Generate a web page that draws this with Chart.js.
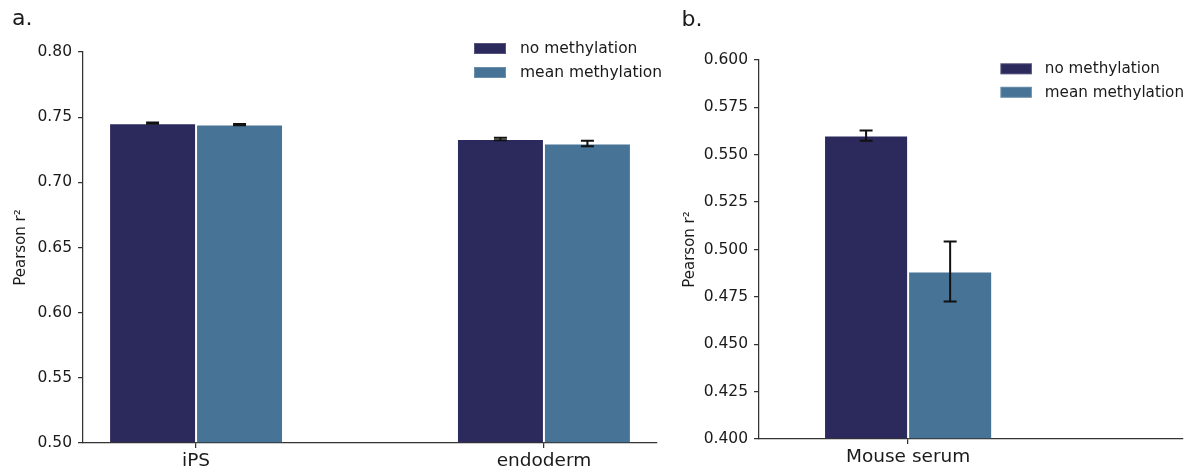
<!DOCTYPE html>
<html><head><meta charset="utf-8">
<script src="https://cdn.jsdelivr.net/npm/chart.js@4.4.1/dist/chart.umd.min.js"></script>
<style>
html,body{margin:0;padding:0;background:#fff;width:1192px;height:473px;overflow:hidden;}
.p{position:absolute;top:0;}
#wa{left:0;width:670px;height:473px;}
#wb{left:660px;width:532px;height:473px;}
</style></head><body>
<div class="p" id="wa"><canvas id="ca" width="670" height="473"></canvas></div>
<div class="p" id="wb"><canvas id="cb" width="532" height="473"></canvas></div>
<script>
// ---- data ----
const seriesNames = ['no methylation', 'mean methylation'];
const seriesColors = ['#2c295c', '#467396'];

const categoriesA = ['iPS', 'endoderm'];
const noMethA = [0.7454, 0.7332];
const noMethErrA = [0.0005, 0.0010];
const meanMethA = [0.7443, 0.7298];
const meanMethErrA = [0.0005, 0.0022];
const yTicksA = [0.50, 0.55, 0.60, 0.65, 0.70, 0.75, 0.80];

const categoriesB = ['Mouse serum'];
const noMethB = [0.5601];
const noMethErrB = [0.0027];
const meanMethB = [0.4884];
const meanMethErrB = [0.0158];
const yTicksB = [0.400, 0.425, 0.450, 0.475, 0.500, 0.525, 0.550, 0.575, 0.600];

const INK = '#1a1a1a';
const AXIS = '#333333';

const errorBarsPlugin = {
  id: 'errorBars',
  afterDatasetsDraw(chart, args, opts) {
    const ctx = chart.ctx;
    const y = chart.scales.y;
    ctx.save();
    ctx.strokeStyle = '#111';
    ctx.lineWidth = opts.lineWidth || 2;
    chart.data.datasets.forEach((ds, di) => {
      const meta = chart.getDatasetMeta(di);
      meta.data.forEach((el, i) => {
        const v = ds.data[i].y, e = ds.errors[i];
        const y1 = y.getPixelForValue(v - e), y2 = y.getPixelForValue(v + e);
        const cw = opts.cap || 6.5;
        ctx.beginPath();
        ctx.moveTo(el.x, y1); ctx.lineTo(el.x, y2);
        ctx.moveTo(el.x - cw, y1); ctx.lineTo(el.x + cw, y1);
        ctx.moveTo(el.x - cw, y2); ctx.lineTo(el.x + cw, y2);
        ctx.stroke();
      });
    });
    ctx.restore();
  }
};

const legendPlugin = {
  id: 'boxLegend',
  afterDraw(chart, args, o) {
    const ctx = chart.ctx;
    ctx.save();
    ctx.font = o.fontSize + 'px "DejaVu Sans"';
    ctx.textBaseline = 'middle';
    ctx.textAlign = 'left';
    chart.data.datasets.forEach((ds, i) => {
      const top = o.top + i * o.gap;
      ctx.fillStyle = ds.backgroundColor;
      ctx.fillRect(o.left, top, o.w, o.h);
      ctx.strokeStyle = 'rgba(255,255,255,0.2)';
      ctx.lineWidth = 1;
      ctx.strokeRect(o.left + 0.5, top + 0.5, o.w - 1, o.h - 1);
      ctx.fillStyle = INK;
      ctx.fillText(ds.label, o.textX, top + o.h / 2 + 0.5);
    });
    ctx.font = o.panelSize + 'px "DejaVu Sans"';
    ctx.textBaseline = 'alphabetic';
    ctx.fillStyle = INK;
    ctx.fillText(o.panel, o.panelX, o.panelY);
    ctx.restore();
  }
};

function makeChart(id, cfg) {
  const datasets = cfg.series.map((vals, si) => ({
    label: seriesNames[si],
    data: cfg.categories.map((c, i) => ({ x: i, y: vals[i] })),
    errors: cfg.errors[si],
    backgroundColor: seriesColors[si],
    borderColor: 'rgba(255,255,255,0.15)',
    borderWidth: 1,
    base: cfg.yTicks[0],
    categoryPercentage: cfg.catPct,
    barPercentage: 1
  }));
  return new Chart(document.getElementById(id), {
    type: 'bar',
    data: { datasets },
    options: {
      responsive: false,
      animation: false,
      devicePixelRatio: 1,
      layout: { padding: { top: cfg.padTop, right: cfg.padRight, left: 0, bottom: 0 } },
      plugins: {
        legend: { display: false },
        tooltip: { enabled: false },
        errorBars: { lineWidth: 2, cap: 6.5 },
        boxLegend: cfg.legend
      },
      scales: {
        x: {
          type: 'linear',
          offset: false,
          min: cfg.xMin, max: cfg.xMax,
          afterBuildTicks: s => { s.ticks = cfg.categories.map((c, i) => ({ value: i })); },
          afterFit: s => { s.height = cfg.xHeight; },
          ticks: {
            autoSkip: false, maxRotation: 0,
            callback: v => cfg.categories[v],
            color: INK, padding: cfg.xPad,
            font: { family: 'DejaVu Sans', size: 18.5 }
          },
          grid: { offset: false, drawOnChartArea: false, drawTicks: true, tickLength: 5, color: AXIS, lineWidth: 1.25 },
          border: { display: true, color: AXIS, width: 1.25 }
        },
        y: {
          type: 'linear',
          min: cfg.yTicks[0], max: cfg.yTicks[cfg.yTicks.length - 1],
          afterBuildTicks: s => { s.ticks = cfg.yTicks.map(v => ({ value: v })); },
          afterFit: s => { s.width = cfg.yWidth; },
          ticks: {
            callback: v => v.toFixed(cfg.dec),
            color: INK, padding: 6,
            font: { family: 'DejaVu Sans', size: 15.5 }
          },
          title: {
            display: true, text: 'Pearson r\u00B2', color: INK,
            font: { family: 'DejaVu Sans', size: 15 },
            padding: { top: cfg.titlePad, bottom: 0 }
          },
          grid: { drawOnChartArea: false, drawTicks: true, tickLength: 5, color: AXIS, lineWidth: 1.25 },
          border: { display: true, color: AXIS, width: 1.25 }
        }
      }
    },
    plugins: [errorBarsPlugin, legendPlugin]
  });
}

makeChart('ca', {
  categories: categoriesA,
  series: [noMethA, meanMethA],
  errors: [noMethErrA, meanMethErrA],
  yTicks: yTicksA, dec: 2,
  xMin: -0.325, xMax: 1.325, catPct: 0.5,
  padTop: 52, padRight: 13, xHeight: 30, yWidth: 83,
  xPad: 2, titlePad: 12.4,
  legend: { left: 474, top: 43, w: 32, h: 11, gap: 24, textX: 520, fontSize: 15.5,
            panel: 'a.', panelX: 12, panelY: 25, panelSize: 22 }
});

const xMinB = -0.4435, xMaxB = 0.8176;
makeChart('cb', {
  categories: categoriesB,
  series: [noMethB, meanMethB],
  errors: [noMethErrB, meanMethErrB],
  yTicks: yTicksB, dec: 3,
  xMin: xMinB, xMax: xMaxB, catPct: 0.5 / (xMaxB - xMinB),
  padTop: 60, padRight: 9, xHeight: 34, yWidth: 99,
  xPad: 2, titlePad: 20.7,
  legend: { left: 340.4, top: 63.3, w: 31.5, h: 11, gap: 23.5, textX: 384.8, fontSize: 15.2,
            panel: 'b.', panelX: 21.6, panelY: 26, panelSize: 22 }
});
</script>
</body></html>
